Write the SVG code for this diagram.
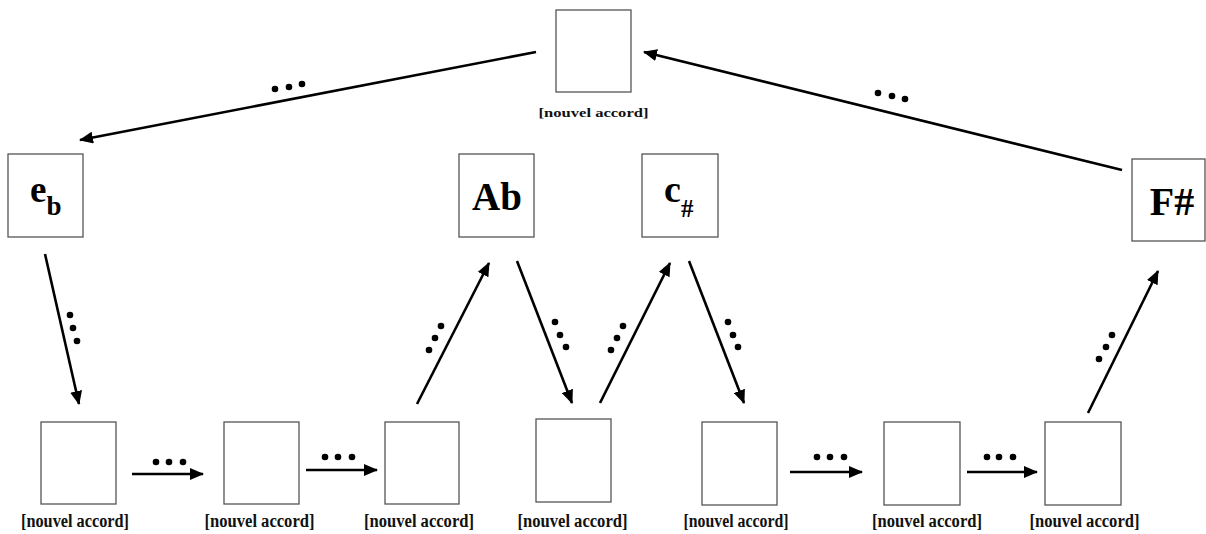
<svg xmlns="http://www.w3.org/2000/svg" width="1206" height="534" viewBox="0 0 1206 534">
<style>
.box{fill:#fff;stroke:#555;stroke-width:1.3}
.lbl{font-family:"Liberation Serif","Times New Roman",serif;font-weight:bold;font-size:18px;fill:#111;text-anchor:middle}
.top{font-size:13.5px}
.big{font-family:"Liberation Serif","Times New Roman",serif;font-weight:bold;fill:#000}
.ar{stroke:#000;stroke-width:2.6;fill:none;marker-end:url(#ah)}
.dot{fill:#000}
</style>
<defs>
<marker id="ah" markerUnits="userSpaceOnUse" markerWidth="14" markerHeight="12" viewBox="0 0 14 12" refX="13" refY="6" orient="auto">
<path d="M0,0 L14,6 L0,12 Z" fill="#000"/>
</marker>
</defs>
<g id="n_top">
<rect class="box" x="556" y="10" width="75" height="82"/>
<text class="lbl top" x="593.5" y="117" textLength="110" lengthAdjust="spacingAndGlyphs">[nouvel accord]</text>
</g>
<g id="n_eb">
<rect class="box" x="8" y="154" width="75" height="83"/>
<text class="big" x="30" y="202" font-size="37">e<tspan font-size="27" dy="13">b</tspan></text>
</g>
<g id="n_ab">
<rect class="box" x="459" y="154" width="75" height="83"/>
<text class="big" x="497" y="210" font-size="39" text-anchor="middle">Ab</text>
</g>
<g id="n_cs">
<rect class="box" x="642" y="154" width="76" height="83"/>
<text class="big" x="664" y="202" font-size="38">c<tspan font-size="25" dy="15">#</tspan></text>
</g>
<g id="n_fs">
<rect class="box" x="1132" y="159" width="73" height="82"/>
<text class="big" x="1172" y="215" font-size="40" text-anchor="middle">F#</text>
</g>
<g id="n_b1"><rect class="box" x="41" y="422" width="75" height="82"/><text class="lbl" x="75" y="527" textLength="108" lengthAdjust="spacingAndGlyphs">[nouvel accord]</text></g>
<g id="n_b2"><rect class="box" x="224" y="422" width="75" height="82"/><text class="lbl" x="259.5" y="527" textLength="110" lengthAdjust="spacingAndGlyphs">[nouvel accord]</text></g>
<g id="n_b3"><rect class="box" x="385" y="422" width="74" height="82"/><text class="lbl" x="419" y="527" textLength="110" lengthAdjust="spacingAndGlyphs">[nouvel accord]</text></g>
<g id="n_b4"><rect class="box" x="536" y="419" width="75" height="83"/><text class="lbl" x="572.5" y="527" textLength="110" lengthAdjust="spacingAndGlyphs">[nouvel accord]</text></g>
<g id="n_b5"><rect class="box" x="702" y="422" width="75" height="83"/><text class="lbl" x="736" y="527" textLength="105" lengthAdjust="spacingAndGlyphs">[nouvel accord]</text></g>
<g id="n_b6"><rect class="box" x="884" y="422" width="76" height="83"/><text class="lbl" x="927" y="527" textLength="110" lengthAdjust="spacingAndGlyphs">[nouvel accord]</text></g>
<g id="n_b7"><rect class="box" x="1045" y="422" width="76" height="83"/><text class="lbl" x="1084.5" y="527" textLength="110" lengthAdjust="spacingAndGlyphs">[nouvel accord]</text></g>
<g id="connectors">
<line class="ar" x1="536" y1="52" x2="80" y2="140"/>
<line class="ar" x1="1122" y1="170" x2="644" y2="52"/>
<line class="ar" x1="45" y1="254" x2="79" y2="404"/>
<line class="ar" x1="132" y1="474" x2="203" y2="474"/>
<line class="ar" x1="306" y1="470" x2="377" y2="470"/>
<line class="ar" x1="417" y1="404" x2="489" y2="263"/>
<line class="ar" x1="517" y1="261" x2="572" y2="403"/>
<line class="ar" x1="600" y1="403" x2="670" y2="263"/>
<line class="ar" x1="689" y1="261" x2="744" y2="403"/>
<line class="ar" x1="790" y1="472" x2="862" y2="472"/>
<line class="ar" x1="967" y1="472" x2="1037" y2="472"/>
<line class="ar" x1="1088" y1="413" x2="1158" y2="271"/>
<g class="dot">
<circle cx="275" cy="89" r="3.3"/><circle cx="289" cy="87" r="3.3"/><circle cx="302" cy="84" r="3.3"/>
<circle cx="878" cy="93" r="3.3"/><circle cx="892" cy="96" r="3.3"/><circle cx="905" cy="99" r="3.3"/>
<circle cx="70" cy="315" r="3.3"/><circle cx="73" cy="328" r="3.3"/><circle cx="77" cy="341" r="3.3"/>
<circle cx="156" cy="462" r="3.3"/><circle cx="169" cy="462" r="3.3"/><circle cx="183" cy="462" r="3.3"/>
<circle cx="325" cy="457" r="3.3"/><circle cx="338" cy="457" r="3.3"/><circle cx="352" cy="457" r="3.3"/>
<circle cx="429" cy="350" r="3.3"/><circle cx="435" cy="338" r="3.3"/><circle cx="441" cy="326" r="3.3"/>
<circle cx="555" cy="322" r="3.3"/><circle cx="560" cy="335" r="3.3"/><circle cx="566" cy="347" r="3.3"/>
<circle cx="611" cy="350" r="3.3"/><circle cx="617" cy="338" r="3.3"/><circle cx="623" cy="326" r="3.3"/>
<circle cx="728" cy="322" r="3.3"/><circle cx="733" cy="335" r="3.3"/><circle cx="738" cy="347" r="3.3"/>
<circle cx="817" cy="457" r="3.3"/><circle cx="830" cy="457" r="3.3"/><circle cx="844" cy="457" r="3.3"/>
<circle cx="987" cy="457" r="3.3"/><circle cx="999" cy="457" r="3.3"/><circle cx="1013" cy="457" r="3.3"/>
<circle cx="1099" cy="359" r="3.3"/><circle cx="1106" cy="347" r="3.3"/><circle cx="1112" cy="335" r="3.3"/>
</g>
</g>
</svg>
